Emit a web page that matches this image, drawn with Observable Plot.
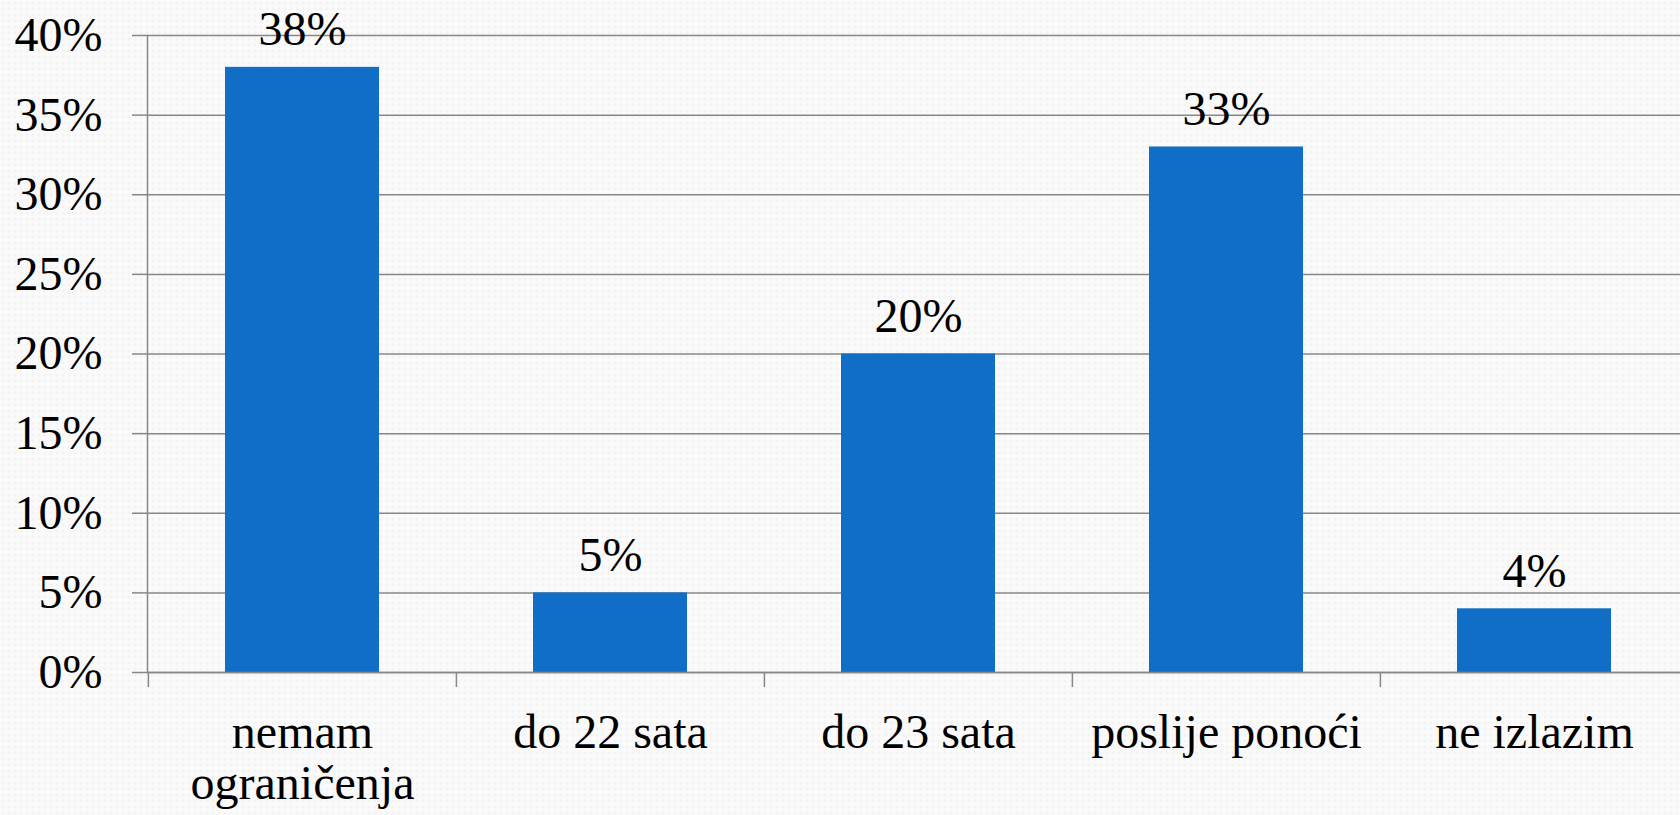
<!DOCTYPE html>
<html>
<head>
<meta charset="utf-8">
<script src="https://cdn.jsdelivr.net/npm/d3@7"></script>
<script src="https://cdn.jsdelivr.net/npm/@observablehq/plot@0.6"></script>
<style>
  html, body { margin: 0; padding: 0; }
  body {
    width: 1680px; height: 815px; overflow: hidden;
    background-color: #fafafa;
    background-image: radial-gradient(circle at 50% 50%, #f3f3f3 0, #f3f3f3 1px, transparent 2px);
    background-size: 6px 6px;
  }
  #chart svg { display: block; }
</style>
</head>
<body>
<div id="chart"></div>
<script>
const categories = ["nemam ograničenja", "do 22 sata", "do 23 sata", "poslije ponoći", "ne izlazim"];
const categoryLabels = ["nemam\nograničenja", "do 22 sata", "do 23 sata", "poslije ponoći", "ne izlazim"];
const values = [38, 5, 20, 33, 4];
const yTicks = [0, 5, 10, 15, 20, 25, 30, 35, 40];

const data = categories.map((c, i) => ({category: c, value: values[i]}));
const labelOf = new Map(categories.map((c, i) => [c, categoryLabels[i]]));

const FONT = "Liberation Serif";
const GRID = "#878787";
const X0 = 147, X1 = 1688;
const halfBand = (X1 - X0) / categories.length / 2;

const chart = Plot.plot({
  width: 1680,
  height: 815,
  marginTop: 35,
  marginBottom: 143,
  marginLeft: 147,
  marginRight: 0,
  style: {fontFamily: FONT, fontSize: "48px", background: "transparent"},
  x: {domain: categories, range: [X0, X1], padding: 0, label: null},
  y: {domain: [0, 40], label: null},
  marks: [
    Plot.gridY(yTicks, {stroke: GRID, strokeOpacity: 1, strokeWidth: 1.5}),
    Plot.axisY(yTicks, {
      tickFormat: d => d + "%",
      tickSize: 15,
      tickPadding: 30,
      stroke: GRID,
      strokeWidth: 1.5,
      tickOpacity: 1,
      fontSize: 48,
      fontFamily: FONT,
      fill: "#000"
    }),
    Plot.barY(data, Plot.groupX({y: "sum"}, {x: "category", y: "value", fill: "#116ec6", insetLeft: 77, insetRight: 77})),
    Plot.frame({anchor: "left", stroke: GRID, strokeWidth: 1.5}),
    Plot.ruleY([0], {stroke: GRID, strokeWidth: 1.5}),
    Plot.axisX(categories, {
      tickSize: 15,
      dx: -halfBand,
      tickFormat: () => "",
      stroke: GRID,
      strokeWidth: 1.5,
      tickOpacity: 1
    }),
    Plot.axisX(categories, {
      tickSize: 0,
      tickPadding: 40,
      tickFormat: d => labelOf.get(d),
      fontSize: 48,
      fontFamily: FONT,
      lineHeight: 1.05,
      fill: "#000"
    }),
    Plot.text(data, {
      x: "category",
      y: "value",
      text: d => d.value + "%",
      lineAnchor: "bottom",
      dy: -22,
      fontSize: 48,
      fontFamily: FONT,
      fill: "#000"
    })
  ]
});
d3.select(chart).selectAll("text").style("font-family", FONT);
document.getElementById("chart").append(chart);
</script>
</body>
</html>
